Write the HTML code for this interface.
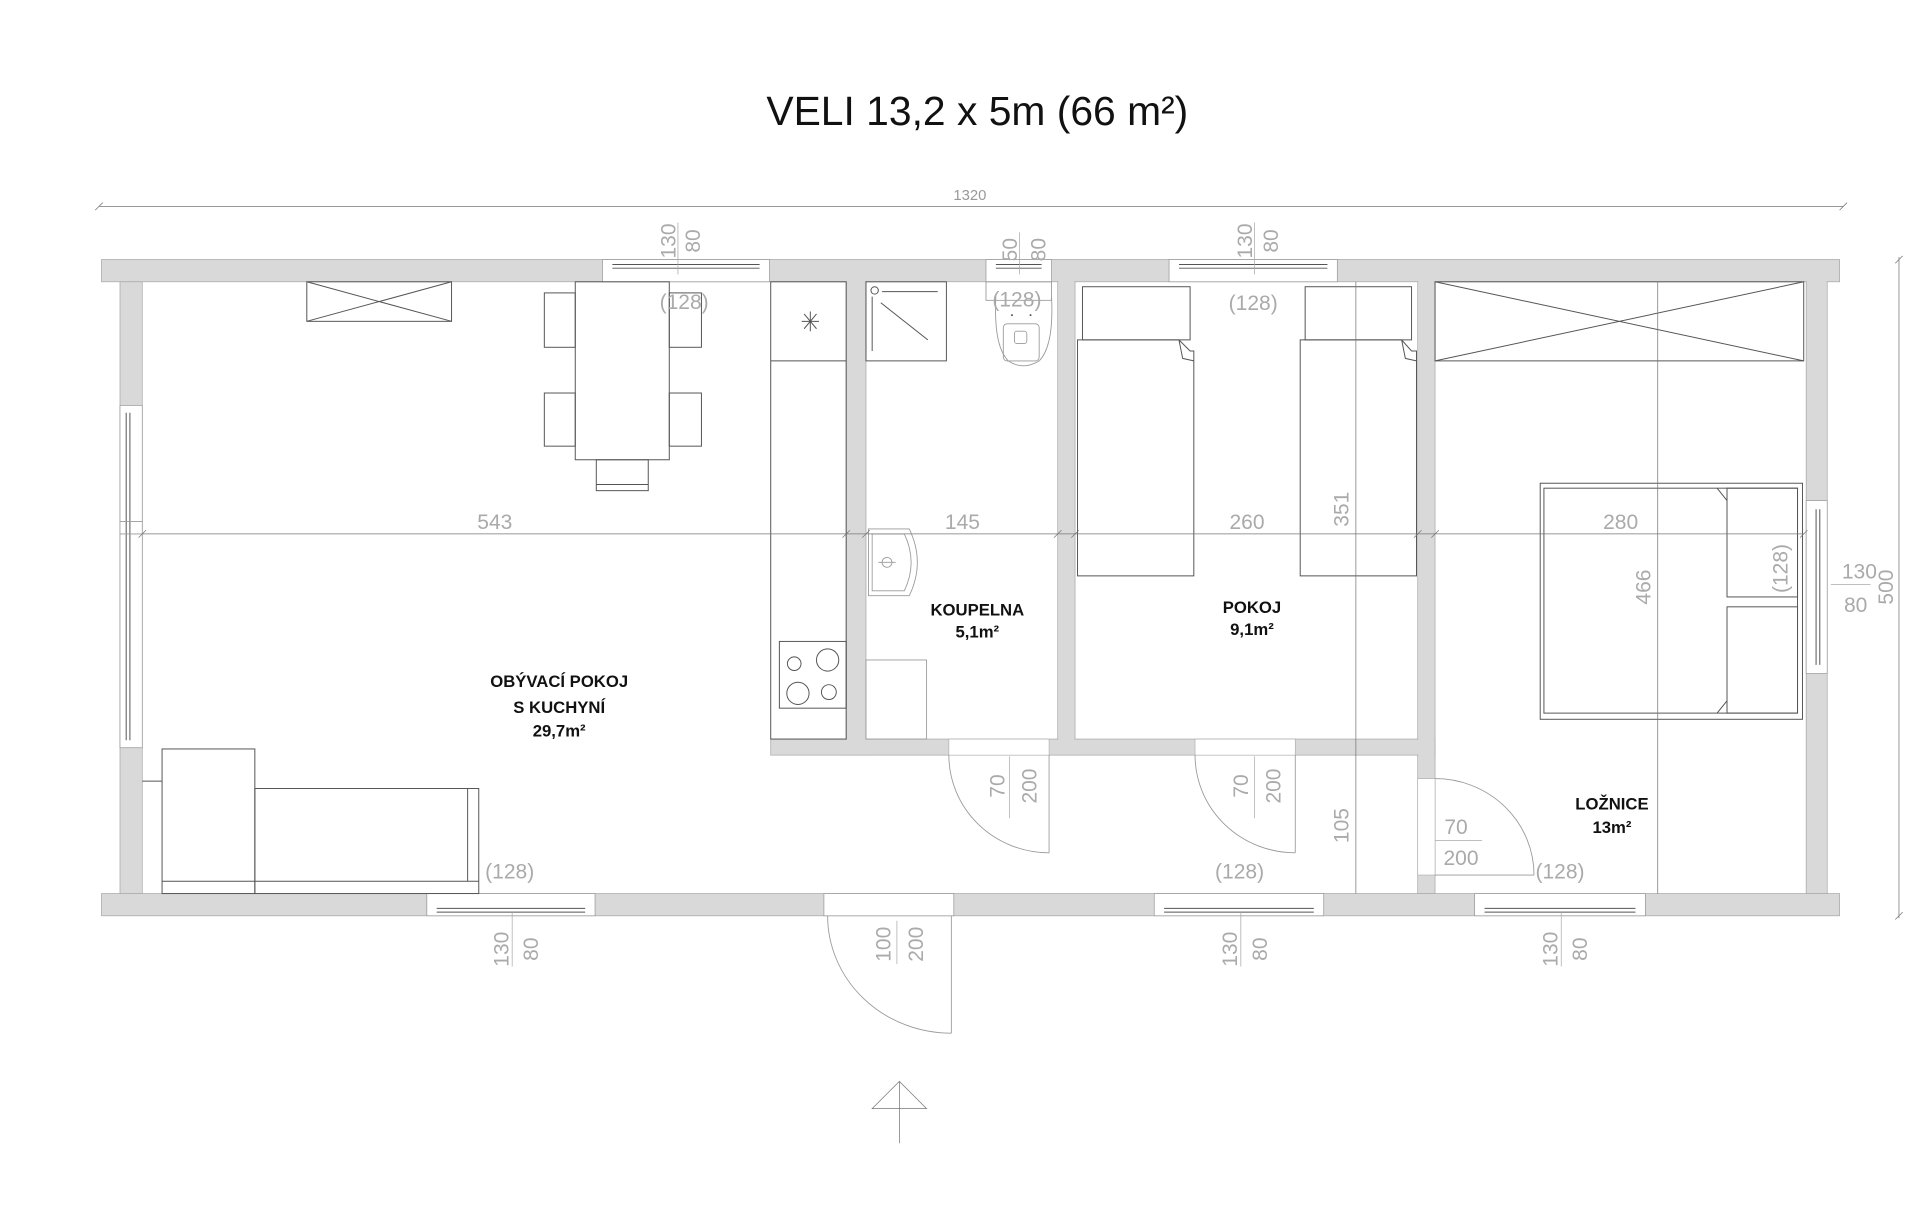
<!DOCTYPE html>
<html><head><meta charset="utf-8"><style>
html,body{margin:0;padding:0;background:#fff;width:1920px;height:1205px;overflow:hidden}
svg{display:block}
.w{fill:#d9d9d9;stroke:#a8a8a8;stroke-width:0.6}
.o{fill:#fff;stroke:#999;stroke-width:0.6}
.l{fill:none;stroke:#555;stroke-width:0.8}
.g{fill:none;stroke:#999;stroke-width:0.7}
.d{fill:none;stroke:#777;stroke-width:0.6}
.t{font-family:"Liberation Sans Narrow","Liberation Sans",sans-serif;fill:#aaa;font-size:17px}
.s{font-family:"Liberation Sans Narrow","Liberation Sans",sans-serif;fill:#999;font-size:12px}
.b{font-family:"Liberation Sans",sans-serif;font-weight:bold;font-size:13.5px;fill:#111;text-anchor:middle}
</style></head><body>
<svg width="1920" height="1205" viewBox="0 0 1552 975" preserveAspectRatio="none">
<text x="790" y="101" text-anchor="middle" font-family="'Liberation Sans Narrow','Liberation Sans',sans-serif" font-size="33" fill="#111">VELI 13,2 x 5m (66 m²)</text>

<!-- top dimension -->
<line class="d" x1="80" y1="167" x2="1490" y2="167"/>
<line class="d" x1="77" y1="170" x2="83" y2="164"/><line class="d" x1="1487" y1="170" x2="1493" y2="164"/>
<text class="s" x="784" y="162" text-anchor="middle">1320</text>

<!-- walls -->
<rect class="w" x="82" y="210" width="1405" height="18"/>
<rect class="w" x="82" y="723" width="1405" height="18"/>
<rect class="w" x="97" y="228" width="18" height="495"/>
<rect class="w" x="1460" y="228" width="17" height="495"/>
<rect class="w" x="684" y="228" width="16" height="383"/>
<rect class="w" x="855" y="228" width="14" height="383"/>
<rect class="w" x="1146" y="228" width="14" height="495"/>
<rect class="w" x="623" y="598" width="537" height="13"/>
<rect x="97.5" y="229" width="17" height="493" fill="#d9d9d9"/>
<rect x="684.5" y="227" width="15" height="383" fill="#d9d9d9"/>
<rect x="855.5" y="227" width="13" height="383" fill="#d9d9d9"/>
<rect x="1146.5" y="227" width="13" height="495" fill="#d9d9d9"/>
<rect x="1460.5" y="227" width="16" height="495" fill="#d9d9d9"/>
<rect x="98" y="598.5" width="0" height="0"/>

<!-- openings top -->
<rect class="o" x="487" y="210" width="135" height="18"/>
<rect class="o" x="797" y="210" width="53" height="18"/>
<rect class="o" x="945" y="210" width="136" height="18"/>
<line class="l" x1="495" y1="214" x2="614" y2="214"/><line class="l" x1="495" y1="217" x2="614" y2="217"/>
<line class="l" x1="805" y1="214" x2="842" y2="214"/><line class="l" x1="805" y1="217" x2="842" y2="217"/>
<line class="l" x1="953" y1="214" x2="1073" y2="214"/><line class="l" x1="953" y1="217" x2="1073" y2="217"/>
<!-- openings bottom -->
<rect class="o" x="345" y="723" width="136" height="18"/>
<rect class="o" x="933" y="723" width="137" height="18"/>
<rect class="o" x="1192" y="723" width="138" height="18"/>
<rect class="o" x="666" y="723" width="105" height="18"/>
<line class="l" x1="353" y1="735" x2="473" y2="735"/><line class="l" x1="353" y1="738" x2="473" y2="738"/>
<line class="l" x1="941" y1="735" x2="1062" y2="735"/><line class="l" x1="941" y1="738" x2="1062" y2="738"/>
<line class="l" x1="1200" y1="735" x2="1322" y2="735"/><line class="l" x1="1200" y1="738" x2="1322" y2="738"/>
<!-- openings sides -->
<rect class="o" x="97" y="328" width="18" height="277"/>
<line class="l" x1="102" y1="334" x2="102" y2="599"/><line class="l" x1="105" y1="334" x2="105" y2="599"/>
<line class="g" x1="97" y1="422" x2="115" y2="422"/><line class="g" x1="97" y1="432" x2="115" y2="432"/>
<rect class="o" x="1460" y="405" width="17" height="140"/>
<line class="l" x1="1468" y1="412" x2="1468" y2="538"/><line class="l" x1="1471" y1="412" x2="1471" y2="538"/>
<!-- interior door openings -->
<rect x="767" y="598" width="81" height="13" fill="#fff" stroke="#aaa" stroke-width="0.5"/>
<rect x="966" y="598" width="81" height="13" fill="#fff" stroke="#aaa" stroke-width="0.5"/>
<rect x="1146" y="630" width="14" height="78" fill="#fff" stroke="#aaa" stroke-width="0.5"/>

<!-- doors -->
<line class="g" x1="848" y1="611" x2="848" y2="690"/>
<path class="g" d="M767 611 A81 79 0 0 0 848 690"/>
<line class="g" x1="1047" y1="611" x2="1047" y2="690"/>
<path class="g" d="M966 611 A81 79 0 0 0 1047 690"/>
<line class="g" x1="1160" y1="708" x2="1240" y2="708"/>
<path class="g" d="M1160 630 A80 78 0 0 1 1240 708"/>
<line class="g" x1="769" y1="741" x2="769" y2="836"/>
<path class="g" d="M669 741 A100 95 0 0 0 769 836"/>

<!-- entrance arrow -->
<path class="d" d="M727 875 L705 897 L749 897 Z M727 875 L727 925"/>

<!-- kitchen -->
<rect class="l" x="623" y="228" width="61" height="370" stroke="#666"/>
<line class="l" x1="623" y1="292" x2="684" y2="292"/>
<path class="l" d="M650 254 L660 266 M660 254 L650 266 M655 252 L655 268 M648 260 L662 260" stroke-width="0.5"/>
<rect class="l" x="630" y="519" width="54" height="54"/>
<circle class="l" cx="642" cy="537" r="5.5"/><circle class="l" cx="669" cy="534" r="9"/>
<circle class="l" cx="645" cy="561" r="9"/><circle class="l" cx="670" cy="560" r="6"/>

<!-- living furniture -->
<rect class="l" x="248" y="228" width="117" height="32"/>
<path class="l" d="M248 228 L365 260 M365 228 L248 260" stroke-width="0.5"/>
<rect class="l" x="440" y="237" width="25" height="44"/><rect class="l" x="440" y="318" width="25" height="43"/>
<rect class="l" x="541" y="237" width="26" height="44"/><rect class="l" x="541" y="318" width="26" height="43"/>
<rect class="l" x="482" y="372" width="42" height="25"/><line class="l" x1="482" y1="392" x2="524" y2="392"/>
<rect class="l" x="465" y="228" width="76" height="144" fill="#fff"/>
<rect class="l" x="131" y="606" width="75" height="117"/>
<rect class="l" x="206" y="638" width="181" height="85"/>
<line class="l" x1="131" y1="713" x2="387" y2="713"/><line class="l" x1="378" y1="638" x2="378" y2="713"/>
<line class="l" x1="115" y1="632" x2="131" y2="632"/>

<!-- bathroom -->
<rect class="l" x="700" y="228" width="65" height="64"/>
<circle class="l" cx="707" cy="235" r="3"/>
<line class="l" x1="713" y1="236" x2="758" y2="236"/><line class="l" x1="705" y1="240" x2="705" y2="284"/>
<line class="l" x1="712" y1="245" x2="750" y2="275"/>
<path class="g" d="M805 240 Q803 280 815 292 Q827 300 840 292 Q852 280 850 240"/>
<rect class="g" x="811" y="262" width="29" height="30" rx="3"/>
<rect class="g" x="820" y="268" width="10" height="10" rx="2"/>
<circle cx="818" cy="255" r="0.8" fill="#555"/><circle cx="833" cy="255" r="0.8" fill="#555"/>
<rect class="g" x="797" y="228" width="53" height="15"/>
<path class="g" d="M702 428 L735 428 Q748 455 735 482 L702 482 Z"/>
<path class="g" d="M705 432 L731 432 Q742 455 731 478 L705 478 Z"/>
<circle class="g" cx="717" cy="455" r="4"/><line class="g" x1="710" y1="455" x2="724" y2="455"/>
<rect class="g" x="700" y="534" width="49" height="64"/>

<!-- pokoj beds -->
<rect class="l" x="875" y="232" width="87" height="43"/>
<path class="l" d="M871 275 L953 275 L962 284 L965 284 L965 466 L871 466 Z"/>
<path class="l" d="M953 275 L956 290 L965 292" stroke-width="0.5"/>
<rect class="l" x="1055" y="232" width="86" height="43"/>
<path class="l" d="M1051 275 L1133 275 L1141 284 L1145 284 L1145 466 L1051 466 Z"/>
<path class="l" d="M1133 275 L1136 290 L1145 292" stroke-width="0.5"/>

<!-- loznice -->
<rect class="l" x="1160" y="228" width="298" height="64"/>
<path class="l" d="M1160 228 L1458 292 M1458 228 L1160 292" stroke-width="0.5"/>
<rect class="l" x="1245" y="391" width="212" height="191"/>
<rect class="l" x="1248" y="395" width="205" height="182"/>
<rect class="l" x="1396" y="395" width="57" height="88"/>
<rect class="l" x="1396" y="491" width="57" height="86"/>
<path class="l" d="M1388 395 L1396 405 M1388 577 L1396 567" stroke-width="0.5"/>

<!-- dimension lines -->
<line class="d" x1="115" y1="432" x2="1458" y2="432"/>
<g class="d">
<line x1="112" y1="435" x2="118" y2="429"/><line x1="681" y1="435" x2="687" y2="429"/><line x1="697" y1="435" x2="703" y2="429"/>
<line x1="852" y1="435" x2="858" y2="429"/><line x1="866" y1="435" x2="872" y2="429"/><line x1="1143" y1="435" x2="1149" y2="429"/>
<line x1="1157" y1="435" x2="1163" y2="429"/><line x1="1455" y1="435" x2="1461" y2="429"/>
</g>
<line class="d" x1="1096" y1="228" x2="1096" y2="723"/>
<line class="d" x1="1340" y1="228" x2="1340" y2="723"/>
<line class="d" x1="1535" y1="208" x2="1535" y2="743"/>
<line class="d" x1="1532" y1="213" x2="1538" y2="207"/><line class="d" x1="1532" y1="744" x2="1538" y2="738"/>
<text class="t" x="400" y="428" text-anchor="middle" font-size="15">543</text>
<text class="t" x="778" y="428" text-anchor="middle" font-size="15">145</text>
<text class="t" x="1008" y="428" text-anchor="middle" font-size="15">260</text>
<text class="t" x="1310" y="428" text-anchor="middle" font-size="15">280</text>
<text class="t" font-size="15" transform="translate(1090,412) rotate(-90)" text-anchor="middle">351</text>
<text class="t" font-size="15" transform="translate(1090,668) rotate(-90)" text-anchor="middle">105</text>
<text class="t" font-size="15" transform="translate(1334,475) rotate(-90)" text-anchor="middle">466</text>
<text class="t" font-size="15" transform="translate(1530,475) rotate(-90)" text-anchor="middle">500</text>

<!-- window / door labels -->
<g class="t" font-size="21">
<line x1="548" y1="180" x2="548" y2="222" stroke="#aaa" stroke-width="0.6"/>
<text transform="translate(546,195) rotate(-90)" text-anchor="middle">130</text>
<text transform="translate(566,195) rotate(-90)" text-anchor="middle">80</text>
<line x1="824" y1="188" x2="824" y2="222" stroke="#aaa" stroke-width="0.6"/>
<text transform="translate(822,202) rotate(-90)" text-anchor="middle">50</text>
<text transform="translate(845,202) rotate(-90)" text-anchor="middle">80</text>
<line x1="1014" y1="180" x2="1014" y2="222" stroke="#aaa" stroke-width="0.6"/>
<text transform="translate(1012,195) rotate(-90)" text-anchor="middle">130</text>
<text transform="translate(1033,195) rotate(-90)" text-anchor="middle">80</text>

<line x1="414" y1="738" x2="414" y2="782" stroke="#aaa" stroke-width="0.6"/>
<text transform="translate(411,768) rotate(-90)" text-anchor="middle">130</text>
<text transform="translate(435,768) rotate(-90)" text-anchor="middle">80</text>
<line x1="1003" y1="738" x2="1003" y2="782" stroke="#aaa" stroke-width="0.6"/>
<text transform="translate(1000,768) rotate(-90)" text-anchor="middle">130</text>
<text transform="translate(1024,768) rotate(-90)" text-anchor="middle">80</text>
<line x1="1262" y1="738" x2="1262" y2="782" stroke="#aaa" stroke-width="0.6"/>
<text transform="translate(1259,768) rotate(-90)" text-anchor="middle">130</text>
<text transform="translate(1283,768) rotate(-90)" text-anchor="middle">80</text>

<line x1="725" y1="745" x2="725" y2="780" stroke="#aaa" stroke-width="0.6"/>
<text transform="translate(720,764) rotate(-90)" text-anchor="middle">100</text>
<text transform="translate(746,764) rotate(-90)" text-anchor="middle">200</text>
<line x1="816" y1="612" x2="816" y2="662" stroke="#aaa" stroke-width="0.6"/>
<text transform="translate(812,636) rotate(-90)" text-anchor="middle">70</text>
<text transform="translate(838,636) rotate(-90)" text-anchor="middle">200</text>
<line x1="1014" y1="612" x2="1014" y2="662" stroke="#aaa" stroke-width="0.6"/>
<text transform="translate(1009,636) rotate(-90)" text-anchor="middle">70</text>
<text transform="translate(1035,636) rotate(-90)" text-anchor="middle">200</text>

<line x1="1160" y1="680" x2="1198" y2="680" stroke="#aaa" stroke-width="0.6"/>
<text x="1177" y="675" text-anchor="middle">70</text>
<text x="1181" y="700" text-anchor="middle">200</text>
<line x1="1480" y1="473" x2="1512" y2="473" stroke="#aaa" stroke-width="0.6"/>
<text x="1503" y="468" text-anchor="middle">130</text>
<text x="1500" y="495" text-anchor="middle">80</text>

<text x="553" y="250" text-anchor="middle">(128)</text>
<text x="822" y="248" text-anchor="middle">(128)</text>
<text x="1013" y="251" text-anchor="middle">(128)</text>
<text x="412" y="711" text-anchor="middle">(128)</text>
<text x="1002" y="711" text-anchor="middle">(128)</text>
<text x="1261" y="711" text-anchor="middle">(128)</text>
<text transform="translate(1445,460) rotate(-90)" text-anchor="middle">(128)</text>
</g>

<!-- room labels -->
<text class="b" x="452" y="556">OBÝVACÍ POKOJ</text>
<text class="b" x="452" y="577">S KUCHYNÍ</text>
<text class="b" x="452" y="596">29,7m²</text>
<text class="b" x="790" y="498">KOUPELNA</text>
<text class="b" x="790" y="516">5,1m²</text>
<text class="b" x="1012" y="496">POKOJ</text>
<text class="b" x="1012" y="514">9,1m²</text>
<text class="b" x="1303" y="655">LOŽNICE</text>
<text class="b" x="1303" y="674">13m²</text>
</svg>
</body></html>
